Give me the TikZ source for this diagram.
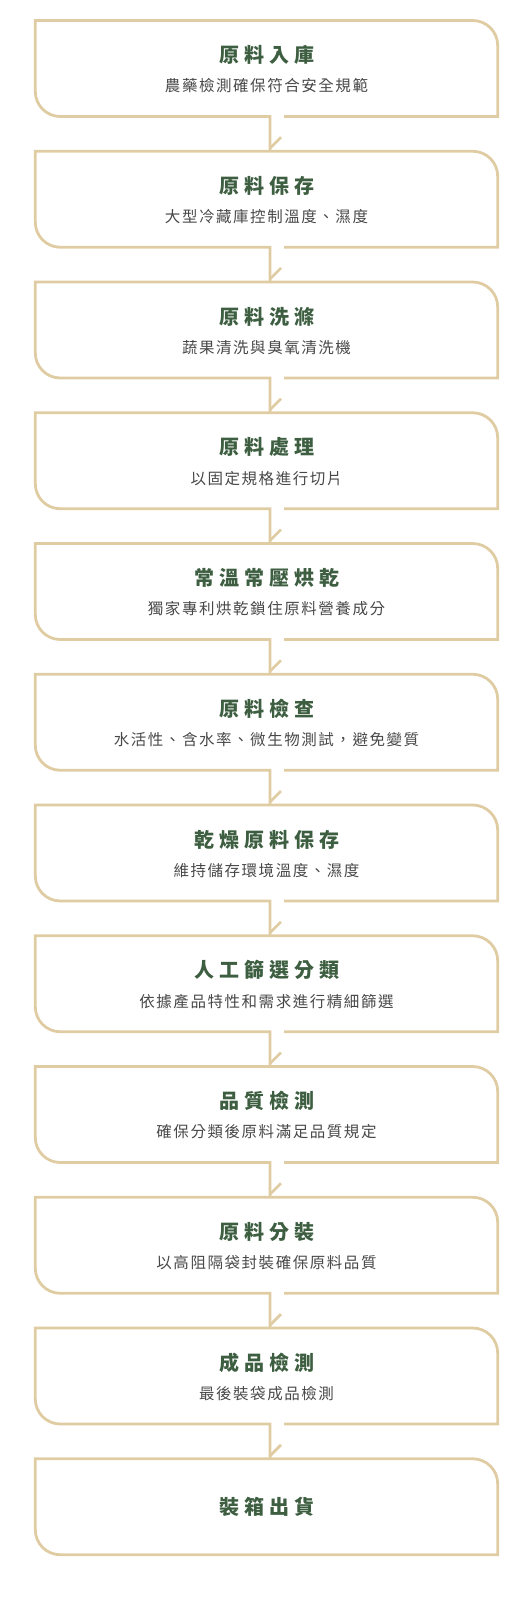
\documentclass[tikz,border=0pt]{standalone}
\usepackage{fontspec}
\usepackage{tikz}
\usepackage{xcolor}
\newfontfamily\titlecjk{Noto Sans CJK TC}[LetterSpace=25]
\newfontfamily\notecjk{Noto Sans CJK TC}[LetterSpace=10]
\definecolor{linebeige}{HTML}{E0CCA2}
\definecolor{titlegreen}{HTML}{3D5E40}
\definecolor{notegray}{HTML}{484848}

\begin{document}
\begin{tikzpicture}[x=1pt, y=1pt,
    stepbox/.style={minimum width=462pt, minimum height=95.6pt, inner sep=0pt},
    steptitle/.style={inner sep=0pt, text=titlegreen, font=\titlecjk\bfseries\fontsize{20pt}{24pt}\selectfont},
    stepnote/.style={inner sep=0pt, text=notegray, font=\notecjk\fontsize{15.5pt}{19pt}\selectfont},
    outline/.style={draw=linebeige, line width=2.8pt}]
    \useasboundingbox (0,0) rectangle (532,-1600);

    \node[stepbox] (s1) at (266.5, -68.5) {};
    \node[stepbox] (s2) at (266.5, -199.25) {};
    \node[stepbox] (s3) at (266.5, -330) {};
    \node[stepbox] (s4) at (266.5, -460.75) {};
    \node[stepbox] (s5) at (266.5, -591.5) {};
    \node[stepbox] (s6) at (266.5, -722.25) {};
    \node[stepbox] (s7) at (266.5, -853) {};
    \node[stepbox] (s8) at (266.5, -983.75) {};
    \node[stepbox] (s9) at (266.5, -1114.5) {};
    \node[stepbox] (s10) at (266.5, -1245.25) {};
    \node[stepbox] (s11) at (266.5, -1376) {};
    \node[stepbox] (s12) at (266.5, -1506.75) {};

    % box outlines with the tail down to the next box
    \foreach \i in {1,...,11} {
        \pgfmathtruncatemacro\j{\i+1}
        \draw[outline] ([xshift=17.5pt]s\i.south) -- (s\i.south east) -- ([yshift=-25pt]s\i.north east) arc[start angle=0, end angle=90, radius=25pt] -- (s\i.north west) -- ([yshift=25pt]s\i.south west) arc[start angle=180, end angle=270, radius=25pt] -- ([xshift=3.5pt]s\i.south) -- ([xshift=3.5pt]s\j.north);
        \draw[outline] ([xshift=3.5pt, yshift=3pt]s\j.north) -- ++(11,11);
    }
    \draw[outline] (s12.south east) -- ([yshift=-25pt]s12.north east) arc[start angle=0, end angle=90, radius=25pt] -- (s12.north west) -- ([yshift=25pt]s12.south west) arc[start angle=180, end angle=270, radius=25pt] -- cycle;

    \node[steptitle] (t1) at ([yshift=13.5pt]s1.center) {原料入庫};
    \node[stepnote] (n1) at ([yshift=-17.5pt]s1.center) {農藥檢測確保符合安全規範};
    \node[steptitle] (t2) at ([yshift=13.5pt]s2.center) {原料保存};
    \node[stepnote] (n2) at ([yshift=-17.5pt]s2.center) {大型冷藏庫控制溫度、濕度};
    \node[steptitle] (t3) at ([yshift=13.5pt]s3.center) {原料洗滌};
    \node[stepnote] (n3) at ([yshift=-17.5pt]s3.center) {蔬果清洗與臭氧清洗機};
    \node[steptitle] (t4) at ([yshift=13.5pt]s4.center) {原料處理};
    \node[stepnote] (n4) at ([yshift=-17.5pt]s4.center) {以固定規格進行切片};
    \node[steptitle] (t5) at ([yshift=13.5pt]s5.center) {常溫常壓烘乾};
    \node[stepnote] (n5) at ([yshift=-17.5pt]s5.center) {獨家專利烘乾鎖住原料營養成分};
    \node[steptitle] (t6) at ([yshift=13.5pt]s6.center) {原料檢查};
    \node[stepnote] (n6) at ([yshift=-17.5pt]s6.center) {水活性、含水率、微生物測試，避免變質};
    \node[steptitle] (t7) at ([yshift=13.5pt]s7.center) {乾燥原料保存};
    \node[stepnote] (n7) at ([yshift=-17.5pt]s7.center) {維持儲存環境溫度、濕度};
    \node[steptitle] (t8) at ([yshift=13.5pt]s8.center) {人工篩選分類};
    \node[stepnote] (n8) at ([yshift=-17.5pt]s8.center) {依據產品特性和需求進行精細篩選};
    \node[steptitle] (t9) at ([yshift=13.5pt]s9.center) {品質檢測};
    \node[stepnote] (n9) at ([yshift=-17.5pt]s9.center) {確保分類後原料滿足品質規定};
    \node[steptitle] (t10) at ([yshift=13.5pt]s10.center) {原料分裝};
    \node[stepnote] (n10) at ([yshift=-17.5pt]s10.center) {以高阻隔袋封裝確保原料品質};
    \node[steptitle] (t11) at ([yshift=13.5pt]s11.center) {成品檢測};
    \node[stepnote] (n11) at ([yshift=-17.5pt]s11.center) {最後裝袋成品檢測};
    \node[steptitle] (t12) at (s12.center) {裝箱出貨};
\end{tikzpicture}
\end{document}
